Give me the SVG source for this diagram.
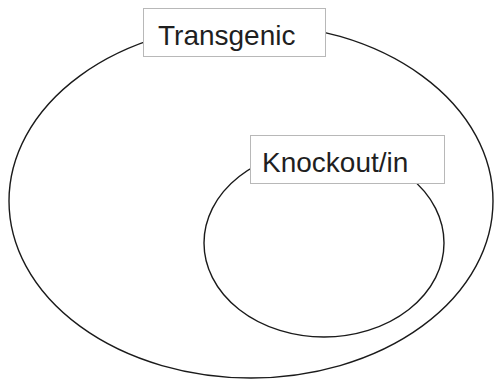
<svg xmlns="http://www.w3.org/2000/svg" width="496" height="381" viewBox="0 0 496 381">
  <style>
    .set { fill: none; stroke: #1a1a1a; stroke-width: 1.4; }
    .label-box { fill: #ffffff; stroke: #b8b8b8; stroke-width: 1; }
    .label { font-family: "Liberation Sans", Arial, sans-serif; font-size: 28px; fill: #1f1f1f; }
  </style>
  <rect width="496" height="381" fill="#ffffff"/>
  <g id="transgenic">
    <ellipse class="set" cx="251" cy="201" rx="242" ry="177"/>
  </g>
  <g id="knockout-in">
    <ellipse class="set" cx="324" cy="243" rx="120" ry="94"/>
  </g>
  <g id="labels">
    <g id="transgenic-label">
      <rect class="label-box" x="143.5" y="8.5" width="182" height="48"/>
      <text class="label" x="158" y="45">Transgenic</text>
    </g>
    <g id="knockout-in-label">
      <rect class="label-box" x="250.5" y="135.5" width="194" height="48"/>
      <text class="label" x="262" y="172">Knockout/in</text>
    </g>
  </g>
</svg>
